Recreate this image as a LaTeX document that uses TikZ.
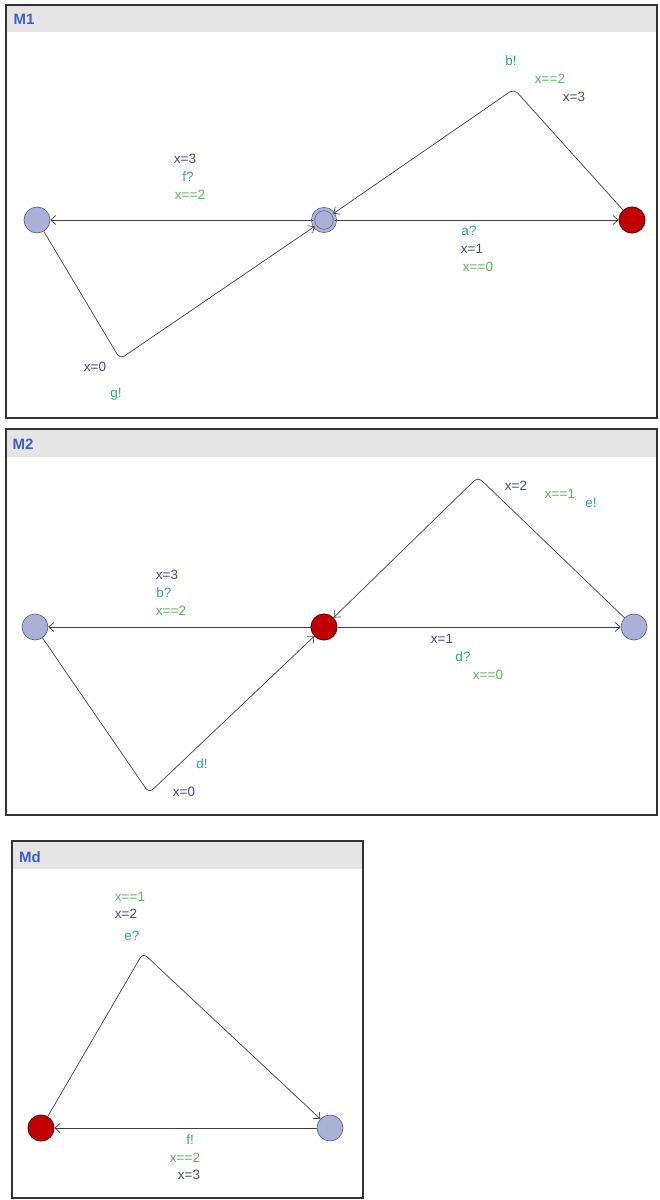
\documentclass[tikz,border=0pt]{standalone}
\usepackage{fontspec}
\setmainfont{Liberation Sans}
\usepackage{tikz}
\usetikzlibrary{arrows.meta,positioning}
\definecolor{LocFill}{HTML}{A9B1D6}
\definecolor{LocLine}{HTML}{515A7E}
\definecolor{CurFill}{HTML}{C00000}
\definecolor{CurLine}{HTML}{6E0000}
\definecolor{SyncTeal}{HTML}{3A9AA8}
\definecolor{GuardGreen}{HTML}{5DB55D}
\definecolor{AssignBlue}{HTML}{4A4A80}
\definecolor{TitleBlue}{HTML}{3A5FCD}
\definecolor{BarGray}{HTML}{E5E5E5}
\definecolor{EdgeGray}{HTML}{404040}

\begin{document}
\begin{tikzpicture}[x=1pt, y=-1pt,
  loc/.style={circle, draw=LocLine, fill=LocFill, minimum size=26pt, inner sep=0pt, line width=0.6pt},
  initloc/.style={loc, double=LocFill, double distance=2.6pt, minimum size=22pt},
  curloc/.style={loc, draw=CurLine, fill=CurFill, line width=1pt},
  arrow/.style={-{Straight Barb[length=5pt, width=9pt]}, draw=EdgeGray, line width=0.7pt, rounded corners=5pt},
  lbl/.style={inner sep=0pt, font=\fontsize{13.5}{15}\selectfont},
  sync/.style={lbl, text=SyncTeal},
  guard/.style={lbl, text=GuardGreen},
  assign/.style={lbl, text=AssignBlue},
  panel/.style={draw=black!80, line width=1.2pt},
  bar/.style={fill=BarGray},
  title/.style={text=TitleBlue, font=\bfseries\fontsize{15}{17}\selectfont, inner sep=0pt}
]
\useasboundingbox (0,0) rectangle (659,1200);

% panel M1
\fill[bar] (6,5) rectangle (657,32);
\draw[panel] (6,5) rectangle (657,418);
\node[title] (titleM1) at (24,19) {M1};

\node[loc] (m1left) at (37,220) {};
\node[initloc] (m1init) at (324,220) {};
\node[curloc] (m1right) at (632,220) {};
\coordinate (m1top) at (514,89);
\coordinate (m1bot) at (120,359);

\draw[arrow] (m1init) -- (m1left);
\draw[arrow] (m1init) -- (m1right);
\draw[arrow] (m1right) -- (m1top) -- (m1init);
\draw[arrow] (m1left) -- (m1bot) -- (m1init);

\node[assign] (m1a1) at (185,159) {x=3};
\node[sync] (m1s1) at (188,177) {f?};
\node[guard] (m1g1) at (190,195) {x==2};
\node[sync] (m1s2) at (469,231) {a?};
\node[assign] (m1a2) at (472,249) {x=1};
\node[guard] (m1g2) at (478,267) {x==0};
\node[sync] (m1s3) at (511,61) {b!};
\node[guard] (m1g3) at (550,79) {x==2};
\node[assign] (m1a3) at (574,97) {x=3};
\node[assign] (m1a4) at (95,367) {x=0};
\node[sync] (m1s4) at (116,394) {g!};

% panel M2
\fill[bar] (6,429) rectangle (657,457);
\draw[panel] (6,429) rectangle (657,815);
\node[title] (titleM2) at (23,444) {M2};

\node[loc] (m2left) at (35,627) {};
\node[curloc] (m2mid) at (324,627) {};
\node[loc] (m2right) at (634,627) {};
\coordinate (m2top) at (478,477);
\coordinate (m2bot) at (149,793);

\draw[arrow] (m2mid) -- (m2left);
\draw[arrow] (m2mid) -- (m2right);
\draw[arrow] (m2right) -- (m2top) -- (m2mid);
\draw[arrow] (m2left) -- (m2bot) -- (m2mid);

\node[assign] (m2a1) at (516,486) {x=2};
\node[guard] (m2g1) at (560,494) {x==1};
\node[sync] (m2s1) at (591,503) {e!};
\node[assign] (m2a2) at (167,575) {x=3};
\node[sync] (m2s2) at (164,593) {b?};
\node[guard] (m2g2) at (171,611) {x==2};
\node[assign] (m2a3) at (442,639) {x=1};
\node[sync] (m2s3) at (463,657) {d?};
\node[guard] (m2g3) at (488,675) {x==0};
\node[sync] (m2s4) at (202,764) {d!};
\node[assign] (m2a4) at (184,792) {x=0};

% panel Md
\fill[bar] (12,841) rectangle (363,869);
\draw[panel] (12,841) rectangle (363,1198);
\node[title] (titleMd) at (30,857) {Md};

\node[curloc] (mdleft) at (41,1128) {};
\node[loc] (mdright) at (330,1128) {};
\coordinate (mdtop) at (143,953);

\draw[arrow] (mdleft) -- (mdtop) -- (mdright);
\draw[arrow] (mdright) -- (mdleft);

\node[guard] (mdg1) at (130,897) {x==1};
\node[assign] (mda1) at (126,914) {x=2};
\node[sync] (mds1) at (132,936) {e?};
\node[sync] (mds2) at (190,1140) {f!};
\node[guard] (mdg2) at (185,1158) {x==2};
\node[assign] (mda2) at (189,1175) {x=3};
\end{tikzpicture}
\end{document}
